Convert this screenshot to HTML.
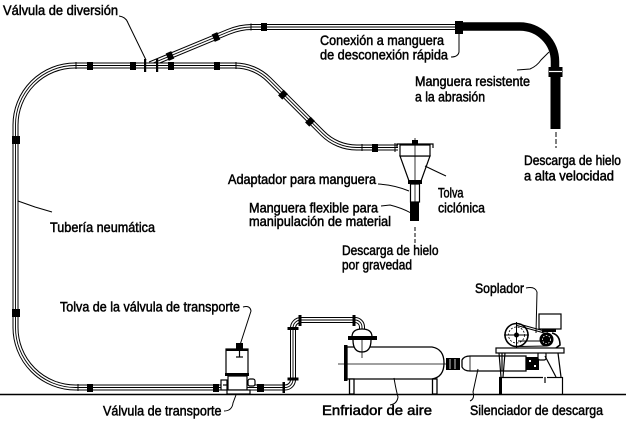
<!DOCTYPE html>
<html>
<head>
<meta charset="utf-8">
<style>
html,body{margin:0;padding:0;background:#fff;}
svg{display:block;}
text{font-family:"Liberation Sans",sans-serif;font-size:14px;fill:#000;stroke:#000;stroke-width:0.5;}
</style>
</head>
<body>
<svg width="626" height="425" viewBox="0 0 626 425" xmlns="http://www.w3.org/2000/svg">
<defs>
  <path id="branch" d="M150,64.3 L228,32 Q240,27 252,27 L455,27"/>
  <path id="main" d="M398,147.5 L356.6,147.5 A48,48 0 0 1 322.7,133.4 L268.9,79.6 A48,48 0 0 0 235,65.5 L75,65.5 A59.5,59.5 0 0 0 15.5,125 L15.5,327 A60,60 0 0 0 75.5,387.5 L285,387.5 A8,8 0 0 0 293,379.5 L293,328 A8,8 0 0 1 301,320 L355,320 A7,7 0 0 1 362,327 L362,331"/>
</defs>

<!-- ground -->
<line x1="0" y1="394.5" x2="626" y2="394.5" stroke="#000" stroke-width="1.5"/>

<!-- pipes -->
<g fill="none">
  <use href="#branch" stroke="#000" stroke-width="6"/>
  <use href="#branch" stroke="#fff" stroke-width="4"/>
  <use href="#branch" stroke="#000" stroke-width="0.9"/>
  <use href="#main" stroke="#000" stroke-width="6"/>
  <use href="#main" stroke="#fff" stroke-width="4"/>
  <use href="#main" stroke="#000" stroke-width="0.9"/>
</g>

<!-- pipe ticks -->
<g stroke="#000" stroke-width="1">
  <line x1="76" y1="62" x2="76" y2="69"/>
  <line x1="236" y1="62" x2="236" y2="69"/>
  <line x1="251" y1="23.5" x2="251" y2="30.5"/>
  <line x1="78" y1="384" x2="78" y2="391"/>
  <line x1="362" y1="144" x2="362" y2="151"/>
  <line x1="395" y1="143" x2="395" y2="152"/>
</g>

<!-- joints -->
<g fill="#000">
  <rect x="87" y="62" width="6" height="8"/>
  <rect x="130" y="62" width="6" height="8"/>
  <rect x="168" y="62" width="6" height="8"/>
  <rect x="214" y="62" width="6" height="8"/>
  <rect x="261" y="23" width="6" height="8"/>
  <rect x="12" y="136" width="8" height="8"/>
  <rect x="12" y="309" width="8" height="8"/>
  <rect x="87" y="384" width="6" height="8"/>
  <rect x="213" y="384" width="6" height="8"/>
  <rect x="257" y="384" width="7" height="8"/>
  <rect x="372" y="144" width="6" height="8"/>
  <rect x="280" y="90.7" width="6" height="8" transform="rotate(45 283 94.7)"/>
  <rect x="307" y="117.7" width="6" height="8" transform="rotate(45 310 121.7)"/>
  <rect x="167" y="52" width="6" height="8" transform="rotate(-22.5 170 56)"/>
  <rect x="213" y="33" width="6" height="8" transform="rotate(-22.5 216 37)"/>
  <!-- diversion valve bars -->
  <rect x="144" y="59" width="2.2" height="13"/>
  <rect x="156" y="59" width="2.2" height="13"/>
  <!-- flanges lower right -->
  <rect x="282.5" y="382" width="2.5" height="11"/>
  <rect x="287.5" y="377.5" width="11" height="3"/>
  <rect x="287.5" y="327" width="11" height="3"/>
  <rect x="298.5" y="315" width="3" height="11"/>
  <rect x="352.5" y="315" width="3" height="11"/>
</g>

<!-- quick connector + abrasion hose -->
<rect x="455" y="21" width="8" height="13" fill="#000"/>
<path d="M462,26.5 L520,26.5 A35,35 0 0 1 555,61.5 L555,75" fill="none" stroke="#000" stroke-width="8.5"/>
<rect x="550.5" y="74" width="10" height="55" fill="#000"/>
<rect x="548.5" y="67" width="14" height="10" fill="#000"/>
<line x1="549" y1="71.5" x2="562" y2="71.5" stroke="#fff" stroke-width="1.2"/>
<line x1="556" y1="132" x2="556" y2="148" stroke="#000" stroke-width="1" stroke-dasharray="5,2"/>

<!-- cyclone -->
<g stroke="#000" stroke-width="1.2" fill="#fff">
  <polygon points="400,156 430,156 421,181 409,181"/>
  <rect x="400" y="145" width="30" height="11"/>
  <rect x="410.5" y="184" width="9" height="18"/>
</g>
<g stroke="#000" stroke-width="1.2" fill="none">
  <path d="M397,148 L397,144 L433,144 L433,148"/>
</g>
<rect x="412" y="140" width="6" height="4" fill="#000"/>
<rect x="408" y="180" width="14" height="4" fill="#000"/>
<rect x="410" y="202" width="9" height="19" fill="#000"/>
<line x1="415" y1="138" x2="415" y2="202" stroke="#000" stroke-width="0.8"/>
<line x1="415" y1="227" x2="415" y2="243" stroke="#000" stroke-width="1" stroke-dasharray="4,2"/>

<!-- transport valve / hopper -->
<g stroke="#000" stroke-width="1.2" fill="#fff">
  <rect x="221" y="380" width="6" height="10"/>
  <rect x="228" y="376" width="19" height="14"/>
  <rect x="226" y="349" width="22" height="25"/>
  <rect x="248" y="379" width="7" height="7" rx="2"/>
  <rect x="227" y="390" width="23" height="4"/>
</g>
<rect x="236" y="343" width="7" height="6" fill="#000"/>
<rect x="226" y="348.5" width="22" height="2.5" fill="#000"/>
<rect x="225" y="373" width="24" height="3" fill="#000"/>
<g stroke="#000" stroke-width="1.2">
  <line x1="236" y1="357" x2="243" y2="357"/>
  <line x1="239.5" y1="350" x2="239.5" y2="357"/>
  <line x1="223" y1="385" x2="227" y2="385"/>
</g>

<!-- air cooler -->
<g stroke="#000" stroke-width="1.3" fill="#fff">
  <path d="M347,347 L432,347 Q444,349 444,363 Q444,377 432,379 L347,379 Z"/>
  <rect x="349.5" y="379" width="4.5" height="15"/>
  <rect x="432.5" y="379" width="4.5" height="15"/>
  <path d="M352,337 Q352,329 362,329 Q372,329 372,337"/>
  <path d="M353,340 Q353,352 362,352 Q371,352 371,340"/>
</g>
<rect x="344" y="345" width="3.5" height="36" fill="#000"/>
<rect x="348" y="336" width="29" height="4" fill="#000"/>
<line x1="362" y1="340" x2="362" y2="358" stroke="#000" stroke-width="0.8"/>
<line x1="338" y1="364" x2="452" y2="364" stroke="#000" stroke-width="0.8"/>

<!-- coupling cooler-silencer -->
<rect x="446" y="358" width="14" height="12" fill="#000"/>
<g stroke="#fff" stroke-width="0.8">
  <line x1="450" y1="359" x2="450" y2="369"/>
  <line x1="455" y1="359" x2="455" y2="369"/>
</g>

<!-- silencer -->
<path d="M462,360 Q464,356 470,356 L526,356 L526,371 L470,371 Q464,371 462,367 Z" fill="#fff" stroke="#000" stroke-width="1.3"/>
<line x1="470" y1="356" x2="470" y2="371" stroke="#000" stroke-width="0.8"/>
<rect x="526" y="357" width="13" height="13" fill="#000"/>
<g fill="#fff">
  <rect x="529" y="360" width="2" height="2"/>
  <rect x="534" y="365" width="2" height="2"/>
</g>
<rect x="538" y="352" width="8" height="8" rx="2" fill="#fff" stroke="#000" stroke-width="1.2"/>

<!-- blower stand -->
<g stroke="#000" stroke-width="1.2" fill="none">
  <line x1="499" y1="353" x2="501" y2="377"/>
  <line x1="505" y1="353" x2="503" y2="377"/>
  <line x1="558" y1="353" x2="561" y2="377"/>
  <line x1="545" y1="356" x2="556" y2="377"/>
  <line x1="502" y1="353" x2="502" y2="371"/>
  <line x1="499" y1="377.5" x2="543" y2="377.5"/>
  <line x1="547" y1="377.5" x2="563" y2="377.5"/>
  <line x1="562.5" y1="377" x2="562.5" y2="394"/>
  <line x1="545" y1="377" x2="545" y2="383"/>
</g>
<rect x="499" y="377" width="3" height="17" fill="#000"/>
<rect x="496" y="348" width="68" height="5" fill="#fff" stroke="#000" stroke-width="1.2"/>

<!-- blower pulley -->
<circle cx="516.5" cy="335" r="11.5" fill="#fff" stroke="#000" stroke-width="1.6"/>
<circle cx="516.5" cy="335" r="8" fill="none" stroke="#000" stroke-width="0.8" stroke-dasharray="2,1.5"/>
<g stroke="#000" stroke-width="1">
  <line x1="516.5" y1="322" x2="516.5" y2="348"/>
  <line x1="504" y1="335" x2="529" y2="335"/>
</g>
<circle cx="516.5" cy="335" r="2.5" fill="#000"/>
<!-- belt -->
<g stroke="#000" stroke-width="1" fill="none">
  <line x1="517" y1="323.5" x2="548" y2="332"/>
  <line x1="517" y1="325.5" x2="548" y2="334"/>
  <line x1="517" y1="346.5" x2="547" y2="346"/>
  <line x1="518" y1="341" x2="545" y2="341"/>
</g>
<!-- motor pulley -->
<circle cx="546.5" cy="339.5" r="7" fill="#000"/>
<circle cx="546.5" cy="339.5" r="4" fill="none" stroke="#fff" stroke-width="0.8" stroke-dasharray="1.5,1.5"/>
<path d="M552,333 Q560,335 560,345 L556,348" fill="none" stroke="#000" stroke-width="1.6"/>
<!-- motor box -->
<rect x="539" y="314" width="22" height="15" fill="#fff" stroke="#000" stroke-width="1.2"/>
<rect x="542" y="329" width="14" height="3" fill="#000"/>

<!-- leaders -->
<g stroke="#000" stroke-width="1" fill="none">
  <path d="M119,16 Q126,17 128,23 L146,60"/>
  <path d="M459,34 L459,52 Q458,57 451,57"/>
  <path d="M517,70 L530,69 Q537,66 541,60 L549,52"/>
  <path d="M378,184 Q395,185 409,191"/>
  <path d="M381,206 L390,205 Q402,208 411,213"/>
  <path d="M425,166 Q433,170 446,176"/>
  <path d="M18,201 L35,207 L52,212"/>
  <path d="M243,307 Q250,305 251,311 L240,345"/>
  <path d="M224,411 Q232,411 233,403 L236,395"/>
  <path d="M394,378 Q396,390 398,397 Q397,404 390,405"/>
  <path d="M470,401 Q475,399 473,392 L478,369"/>
  <path d="M526,288 Q535,286 537,292 L536,333"/>
</g>

<!-- labels -->
<text x="3" y="15" textLength="115" lengthAdjust="spacingAndGlyphs">Válvula de diversión</text>
<text x="320" y="45" textLength="124" lengthAdjust="spacingAndGlyphs">Conexión a manguera</text>
<text x="320" y="59.5" textLength="128" lengthAdjust="spacingAndGlyphs">de desconexión rápida</text>
<text x="415" y="86" textLength="115" lengthAdjust="spacingAndGlyphs">Manguera resistente</text>
<text x="415" y="101.5" textLength="70" lengthAdjust="spacingAndGlyphs">a la abrasión</text>
<text x="524" y="165" textLength="97" lengthAdjust="spacingAndGlyphs">Descarga de hielo</text>
<text x="524" y="180.5" textLength="90" lengthAdjust="spacingAndGlyphs">a alta velocidad</text>
<text x="228" y="184" textLength="148" lengthAdjust="spacingAndGlyphs">Adaptador para manguera</text>
<text x="249" y="212.5" textLength="129" lengthAdjust="spacingAndGlyphs">Manguera flexible para</text>
<text x="249" y="226" textLength="142" lengthAdjust="spacingAndGlyphs">manipulación de material</text>
<text x="438" y="197.5" textLength="25.5" lengthAdjust="spacingAndGlyphs">Tolva</text>
<text x="438" y="212.5" textLength="47" lengthAdjust="spacingAndGlyphs">ciclónica</text>
<text x="342" y="255" textLength="96.5" lengthAdjust="spacingAndGlyphs">Descarga de hielo</text>
<text x="342" y="269.5" textLength="70" lengthAdjust="spacingAndGlyphs">por gravedad</text>
<text x="50" y="232" textLength="105" lengthAdjust="spacingAndGlyphs">Tubería neumática</text>
<text x="60" y="311.5" textLength="180" lengthAdjust="spacingAndGlyphs">Tolva de la válvula de transporte</text>
<text x="103" y="415.5" textLength="118.5" lengthAdjust="spacingAndGlyphs">Válvula de transporte</text>
<text x="322" y="415" textLength="110" lengthAdjust="spacingAndGlyphs">Enfriador de aire</text>
<text x="470" y="415" textLength="133" lengthAdjust="spacingAndGlyphs">Silenciador de descarga</text>
<text x="475" y="293" textLength="49" lengthAdjust="spacingAndGlyphs">Soplador</text>
</svg>
</body>
</html>
